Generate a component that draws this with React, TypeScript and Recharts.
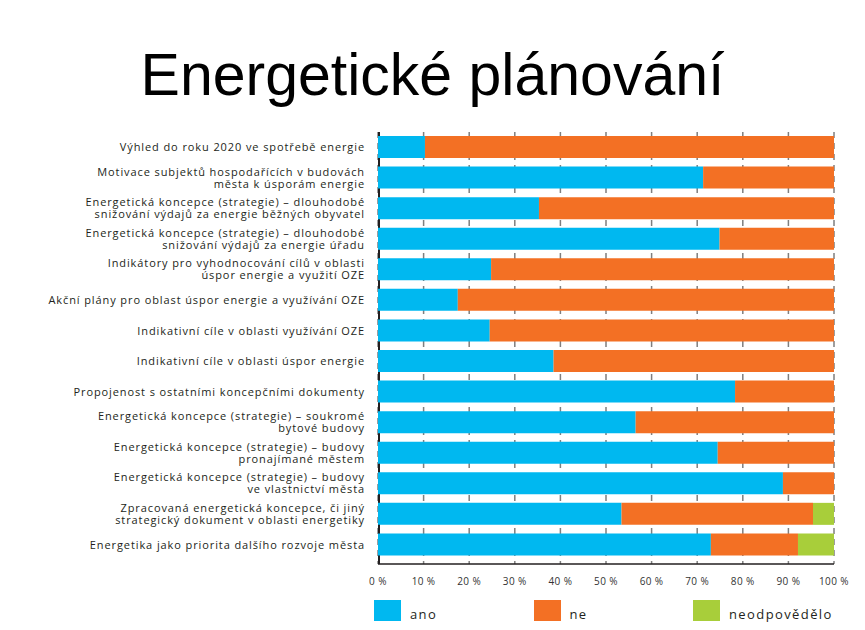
import React from 'react';
import { BarChart, Bar, XAxis, YAxis, CartesianGrid } from 'recharts';

// Category labels (top to bottom), "\n" marks the line break
const categories = [
  'Výhled do roku 2020 ve spotřebě energie',
  'Motivace subjektů hospodařících v budovách\nměsta k úsporám energie',
  'Energetická koncepce (strategie) – dlouhodobé\nsnižování výdajů za energie běžných obyvatel',
  'Energetická koncepce (strategie) – dlouhodobé\nsnižování výdajů za energie úřadu',
  'Indikátory pro vyhodnocování cílů v oblasti\núspor energie a využití OZE',
  'Akční plány pro oblast úspor energie a využívání OZE',
  'Indikativní cíle v oblasti využívání OZE',
  'Indikativní cíle v oblasti úspor energie',
  'Propojenost s ostatními koncepčními dokumenty',
  'Energetická koncepce (strategie) – soukromé\nbytové budovy',
  'Energetická koncepce (strategie) – budovy\npronajímané městem',
  'Energetická koncepce (strategie) – budovy\nve vlastnictví města',
  'Zpracovaná energetická koncepce, či jiný\nstrategický dokument v oblasti energetiky',
  'Energetika jako priorita dalšího rozvoje města',
];

// shares in %
const ano = [10.3, 71.3, 35.3, 74.9, 24.8, 17.5, 24.5, 38.5, 78.3, 56.5, 74.5, 88.8, 53.4, 73.0];
const ne = [89.7, 28.7, 64.7, 25.1, 75.2, 82.5, 75.5, 61.5, 21.7, 43.5, 25.5, 11.2, 42.0, 19.1];
const neodpovedelo = [0, 0, 0, 0, 0, 0, 0, 0, 0, 0, 0, 0, 4.6, 7.9];

const xTicks = [0, 10, 20, 30, 40, 50, 60, 70, 80, 90, 100];

const SERIES = [
  { key: 'ano', label: 'ano', color: '#00B8F0' },
  { key: 'ne', label: 'ne', color: '#F37024' },
  { key: 'neodpovedelo', label: 'neodpovědělo', color: '#A8CE3A' },
];

const chartData = categories.map((name, i) => ({
  name,
  ano: ano[i],
  ne: ne[i],
  neodpovedelo: neodpovedelo[i],
}));

const LABEL_FONT = '"Open Sans", "DejaVu Sans", sans-serif';

// two-line category labels, right aligned
const CategoryTick = ({ x, y, payload }: { x?: number; y?: number; payload?: { value: string } }) => {
  const lines = String(payload?.value ?? '').split('\n');
  const lh = 12;
  const start = -((lines.length - 1) * lh) / 2;
  return (
    <text
      x={x}
      y={y}
      textAnchor="end"
      fontSize={11}
      fill="#231f20"
      fontFamily={LABEL_FONT}
      letterSpacing={0.9}
    >
      {lines.map((line, i) => (
        <tspan key={i} x={x} y={(y ?? 0) + start + i * lh} dy="0.35em">
          {line}
        </tspan>
      ))}
    </text>
  );
};

const App: React.FC = () => {
  return (
    <div style={{ position: 'absolute', left: 0, top: 0, width: 865, height: 630, background: '#fff' }}>
      <div
        style={{
          position: 'absolute',
          left: 0,
          top: 46,
          width: 865,
          textAlign: 'center',
          fontFamily: '"Liberation Sans", Arial, sans-serif',
          fontSize: 59,
          lineHeight: '59px',
          color: '#000',
        }}
      >
        Energetické plánování
      </div>

      <BarChart
        width={865}
        height={630}
        data={chartData}
        layout="vertical"
        margin={{ top: 132, right: 31, bottom: 36, left: 0 }}
        barSize={22}
      >
        <CartesianGrid
          horizontal={false}
          stroke="#7f7f7f"
          strokeWidth={1.5}
          strokeDasharray="6 5"
        />
        <CartesianGrid
          horizontal={false}
          stroke="#231f20"
          strokeWidth={2}
          verticalCoordinatesGenerator={({ offset }: { offset: { left: number } }) => [offset.left + 1]}
        />
        <XAxis
          type="number"
          domain={[0, 100]}
          ticks={xTicks}
          tickFormatter={(v: number) => `${v} %`}
          axisLine={{ stroke: '#231f20', strokeWidth: 1.5 }}
          tickLine={false}
          height={30}
          tickMargin={8}
          tick={{ fontSize: 10, fill: '#333', fontFamily: LABEL_FONT, letterSpacing: 0.4 }}
        />
        <YAxis
          type="category"
          dataKey="name"
          width={378}
          axisLine={false}
          tickLine={false}
          tickMargin={7}
          interval={0}
          padding={{ top: 0, bottom: 4 }}
          tick={<CategoryTick />}
        />
        {SERIES.map((s) => (
          <Bar key={s.key} dataKey={s.key} stackId="a" fill={s.color} isAnimationActive={false} />
        ))}
      </BarChart>

      {/* legend row */}
      {SERIES.map((s, i) => (
        <div
          key={s.key}
          style={{ position: 'absolute', left: 374 + i * 159.5, top: 600, display: 'flex', alignItems: 'flex-end' }}
        >
          <div style={{ width: 27, height: 21, background: s.color }} />
          <span
            style={{
              marginLeft: 9,
              fontFamily: LABEL_FONT,
              fontSize: 13,
              letterSpacing: 1.4,
              color: '#231f20',
              lineHeight: '16px',
              marginBottom: -1,
            }}
          >
            {s.label}
          </span>
        </div>
      ))}
    </div>
  );
};

export default App;
